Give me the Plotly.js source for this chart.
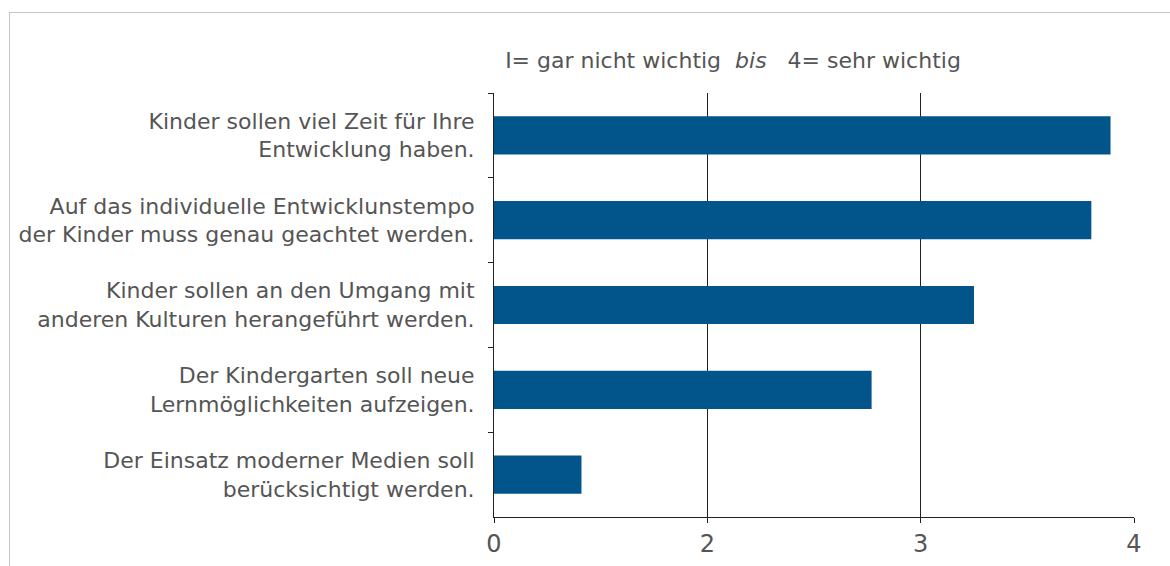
<!DOCTYPE html>
<html>
<head>
<meta charset="utf-8">
<script src="https://cdn.plot.ly/plotly-3.0.1.min.js"></script>
<style>
  html, body { margin: 0; padding: 0; background: #fff; overflow: hidden; }
  #frame { position: absolute; left: 9px; top: 12px; width: 2000px; height: 2000px; border: 1px solid #c4c4c4; }
  #chart { position: absolute; left: 0; top: 0; width: 1170px; height: 566px; }
</style>
</head>
<body>
<div id="frame"></div>
<div id="chart"></div>
<script>
const categories = [
  "Kinder sollen viel Zeit für Ihre<br>Entwicklung haben.",
  "Auf das individuelle Entwicklunstempo<br>der Kinder muss genau geachtet werden.",
  "Kinder sollen an den Umgang mit<br>anderen Kulturen herangeführt werden.",
  "Der Kindergarten soll neue<br>Lernmöglichkeiten aufzeigen.",
  "Der Einsatz moderner Medien soll<br>berücksichtigt werden."
];
const values = [3.89, 3.80, 3.25, 2.77, 1.41];
const tickVals = [1, 2, 3, 4];
const tickText = ["0", "2", "3", "4"];
const titleText = "I= gar nicht wichtig &nbsp;<i>bis</i>&nbsp;&nbsp; 4= sehr wichtig";

const fontFam = "'DejaVu Sans', sans-serif";
const textCol = "#555555";

const trace = {
  type: "bar",
  orientation: "h",
  y: categories,
  x: values,
  base: 0,
  width: 0.45,
  marker: { color: "#02558B", line: { width: 0 } },
  hoverinfo: "x+y"
};

const layout = {
  width: 1170,
  height: 566,
  margin: { l: 494, r: 36, t: 93, b: 49, pad: 0 },
  paper_bgcolor: "rgba(0,0,0,0)",
  plot_bgcolor: "rgba(0,0,0,0)",
  showlegend: false,
  font: { family: fontFam, color: textCol, size: 22 },
  title: {
    text: titleText,
    font: { family: fontFam, color: textCol, size: 22 },
    xref: "container", x: 0.6265, xanchor: "center",
    yref: "container", y: 0.893, yanchor: "middle"
  },
  xaxis: {
    range: [1, 4],
    tickmode: "array",
    tickvals: tickVals,
    ticktext: tickText,
    showgrid: true,
    gridcolor: "#222222",
    gridwidth: 1,
    zeroline: false,
    showline: true,
    linecolor: "#222222",
    linewidth: 1,
    ticks: "outside",
    ticklen: 5,
    tickcolor: "#222222",
    ticklabelstandoff: 0,
    tickfont: { family: fontFam, color: textCol, size: 24 },
    fixedrange: true
  },
  yaxis: {
    type: "category",
    autorange: "reversed",
    showgrid: false,
    zeroline: false,
    showline: true,
    linecolor: "#222222",
    linewidth: 1,
    ticks: "outside",
    tickson: "boundaries",
    ticklen: 5,
    tickcolor: "#222222",
    ticklabelstandoff: 14,
    tickfont: { family: fontFam, color: textCol, size: 22 },
    fixedrange: true
  }
};

Plotly.newPlot("chart", [trace], layout, { displayModeBar: false, responsive: false });
</script>
</body>
</html>
